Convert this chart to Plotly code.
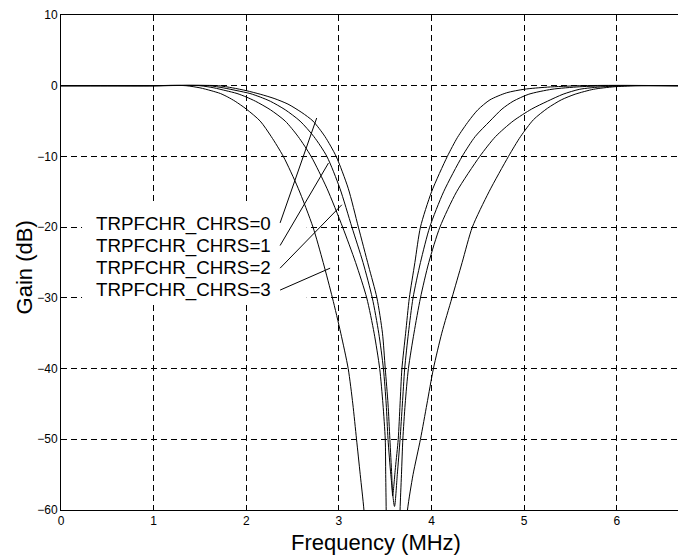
import plotly.graph_objects as go

# ---- data (frequency in MHz, gain in dB) ----
freq_chrs0 = [0, 0.5, 1.0, 1.5, 1.7, 1.85, 2.0, 2.15, 2.3, 2.45, 2.6, 2.72, 2.85, 2.97, 3.1, 3.21,
              3.32, 3.41, 3.47, 3.50, 3.53, 3.55, 3.57, 3.58,
              3.61, 3.64, 3.66, 3.68, 3.72, 3.76, 3.82, 3.88, 4.0, 4.17, 4.28, 4.40, 4.50, 4.63,
              4.81, 5.0, 5.25, 5.6, 6.0, 6.66]
gain_chrs0 = [0, 0, 0, 0.05, 0, -0.3, -0.7, -1.2, -1.8, -2.6, -3.8, -5, -7.2, -10, -14.5, -20,
              -25.5, -30, -35, -40, -45, -50, -55, -58,
              -54, -50, -45, -40, -35, -30, -25, -20, -15, -10, -7.3, -5, -3.4, -2,
              -1, -0.5, -0.2, 0, 0.05, 0]

freq_chrs1 = [0, 0.5, 1.0, 1.4, 1.6, 1.75, 1.9, 2.04, 2.15, 2.26, 2.42, 2.58, 2.73, 2.87, 3.01,
              3.14, 3.26, 3.36, 3.43, 3.48, 3.51, 3.53, 3.56, 3.60,
              3.63, 3.66, 3.685, 3.71, 3.75, 3.80, 3.88, 3.98, 4.13, 4.33, 4.47, 4.63, 4.76,
              4.88, 5.05, 5.3, 5.6, 5.95, 6.66]
gain_chrs1 = [0, 0, 0, 0.05, 0, -0.3, -0.7, -1.1, -1.6, -2.2, -3.4, -5, -7.2, -10, -14.5,
              -20, -25, -30, -35, -40, -45, -50, -55, -59.5,
              -55, -50, -45, -40, -35, -30, -25, -20, -15, -10, -7.2, -5, -3.3,
              -2.2, -1.2, -0.5, -0.15, 0, 0]

freq_chrs2 = [0, 0.5, 1.0, 1.3, 1.5, 1.65, 1.78, 1.90, 2.0, 2.10, 2.26, 2.42, 2.56, 2.70, 2.87,
              3.04, 3.18, 3.30, 3.38, 3.44, 3.475, 3.50, 3.505, 3.51, 3.515, 3.585,
              3.655, 3.66, 3.675, 3.69, 3.715, 3.75, 3.81, 3.88, 3.97, 4.09, 4.27, 4.52, 4.69,
              4.88, 5.08, 5.25, 5.42, 5.6, 5.85, 6.15, 6.66]
gain_chrs2 = [0, 0, 0, 0.05, 0, -0.3, -0.7, -1.1, -1.6, -2.2, -3.4, -5, -7.2, -10, -14.5,
              -20, -25, -30, -35, -40, -45, -50, -55, -60, -66, -80,
              -66, -60, -55, -50, -45, -40, -35, -30, -25, -20, -15, -10, -7.2,
              -5, -3.3, -2.2, -1.2, -0.5, -0.15, 0, 0]

freq_chrs3 = [0, 0.5, 1.0, 1.2, 1.35, 1.5, 1.62, 1.72, 1.80, 1.88, 2.0, 2.15, 2.27, 2.40, 2.56,
              2.72, 2.83, 2.93, 3.02, 3.10, 3.15, 3.19, 3.23, 3.27, 3.31, 3.50,
              3.69, 3.74, 3.80, 3.88, 3.95, 4.02, 4.11, 4.22, 4.33, 4.44, 4.62, 4.83, 4.96,
              5.10, 5.25, 5.40, 5.55, 5.75, 5.97, 6.2, 6.66]
gain_chrs3 = [0, 0, 0, 0.05, 0, -0.3, -0.7, -1.1, -1.6, -2.2, -3.3, -5, -7.2, -10, -14.5,
              -20, -25, -30, -35, -40, -45, -50, -55, -60, -68, -85,
              -68, -60, -55, -50, -45, -40, -35, -30, -25, -20, -15, -10, -7.2,
              -4.8, -3.2, -2, -1.2, -0.5, -0.15, 0, 0]

series_names = ["TRPFCHR_CHRS=0", "TRPFCHR_CHRS=1", "TRPFCHR_CHRS=2", "TRPFCHR_CHRS=3"]
series_freq = [freq_chrs0, freq_chrs1, freq_chrs2, freq_chrs3]
series_gain = [gain_chrs0, gain_chrs1, gain_chrs2, gain_chrs3]

# label text anchor (right end) and leader-line tips, in data units
label_text_x = 2.293
label_text_y = [-19.53, -22.64, -25.75, -28.87]
leader_start_x = 2.365
leader_start_y = [-19.4, -22.6, -25.8, -28.9]
leader_tip_x = [2.76, 2.887, 3.031, 2.905]
leader_tip_y = [-4.57, -10.94, -16.84, -25.8]

x_ticks = [0, 1, 2, 3, 4, 5, 6]
y_ticks = [10, 0, -10, -20, -30, -40, -50, -60]

FONT = "Liberation Sans, Arial, Helvetica, sans-serif"

fig = go.Figure()
for name, fx, gy in zip(series_names, series_freq, series_gain):
    fig.add_trace(go.Scatter(x=fx, y=gy, mode="lines", name=name,
                             line=dict(color="black", width=1, shape="spline", smoothing=0.7),
                             showlegend=False))

shapes = [dict(type="rect", xref="x", yref="y", x0=0.227, x1=2.653, y0=-30.99, y1=-16.56,
               fillcolor="white", line=dict(width=0), layer="between")]
for sy, tx, ty in zip(leader_start_y, leader_tip_x, leader_tip_y):
    shapes.append(dict(type="line", xref="x", yref="y", x0=leader_start_x, y0=sy, x1=tx, y1=ty,
                       line=dict(color="black", width=1), layer="above"))

annotations = []
for name, ty in zip(series_names, label_text_y):
    annotations.append(dict(x=label_text_x, y=ty, xref="x", yref="y", text=name, showarrow=False,
                            xanchor="right", yanchor="middle",
                            font=dict(family=FONT, size=18.8, color="black")))
annotations.append(dict(x=0.511, y=-0.065, xref="paper", yref="paper", text="Frequency (MHz)",
                        showarrow=False, xanchor="center", yanchor="middle",
                        font=dict(family=FONT, size=22, color="black")))
annotations.append(dict(x=-0.06, y=0.49, xref="paper", yref="paper", text="Gain (dB)",
                        showarrow=False, xanchor="center", yanchor="middle", textangle=-90,
                        font=dict(family=FONT, size=22, color="black")))

axis_common = dict(showgrid=True, gridcolor="black", gridwidth=1, griddash="6px,4px",
                   zeroline=False, showline=True, linecolor="black", linewidth=1,
                   ticks="inside", ticklen=5, tickcolor="black",
                   tickfont=dict(family=FONT, size=12, color="black"))

fig.update_layout(
    width=678, height=559,
    margin=dict(l=61, r=0, t=15, b=49),
    paper_bgcolor="white", plot_bgcolor="white",
    xaxis=dict(range=[0, 6.66], tickvals=x_ticks, mirror="ticks", **axis_common),
    yaxis=dict(range=[-60, 10], tickvals=y_ticks, mirror=False, **axis_common),
    shapes=shapes,
    annotations=annotations,
)

fig.write_html("out.html")
